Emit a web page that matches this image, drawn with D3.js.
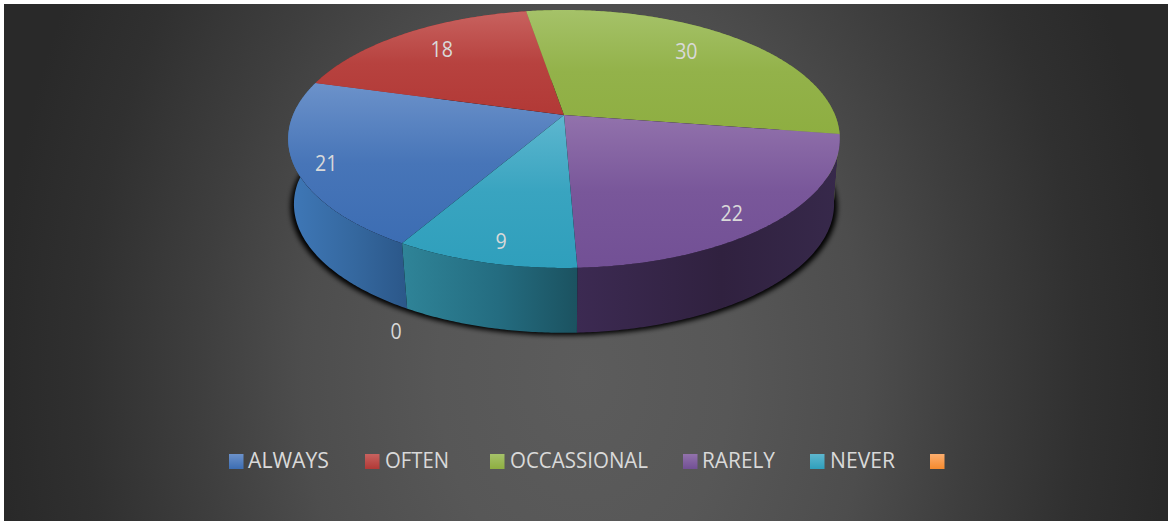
<!DOCTYPE html>
<html><head><meta charset="utf-8">
<script src="https://cdn.jsdelivr.net/npm/d3@7/dist/d3.min.js"></script>
<style>html,body{margin:0;padding:0;background:#fff}svg{display:block}text{font-family:"Open Sans",sans-serif;fill:#d9d9d9}</style>
</head><body><div id="chart"></div>
<script>
// ---- data ----
const categories = ["ALWAYS", "OFTEN", "OCCASSIONAL", "RARELY", "NEVER", ""];
const values = [21, 18, 30, 22, 9, 0];
const dataLabels = ["21", "18", "30", "22", "9", "0"];

// ---- styling ----
const topLight = ["#6c92ca", "#c8625f", "#a5c269", "#9272ac", "#5eb7cf", "#fdae6e"];
const topDark  = ["#3c6db3", "#b23936", "#8eae41", "#725095", "#2f9fbc", "#f58a2e"];
const sideStart = ["#3f78b8", "#8c2d2b", "#6f8a33", "#3c2a52", "#2f8498", "#b06020"];
const sideMid   = ["#35689f", "#8c2d2b", "#6f8a33", "#30213f", "#246c80", "#b06020"];
const sideEnd   = ["#2b5789", "#8c2d2b", "#6f8a33", "#37294b", "#1b5260", "#b06020"];
const labelNudgeX = [-25, 8, -15, 5, -2, -43];
const labelNudgeY = [8, 1, 0, 15, 13, 117];
const legendSwatchX = [229, 365, 490, 683, 810, 930];
const legendTextX = [248, 385, 510, 702, 830, 0];
const legendTextW = [81, 64, 138, 73, 65, 0];

const W = 1168, H = 521;
const svg = d3.select("#chart").append("svg").attr("width", W).attr("height", H);
const defs = svg.append("defs");

// background: off-centre radial glow
const bg = defs.append("radialGradient").attr("id", "bg").attr("gradientUnits", "userSpaceOnUse")
  .attr("cx", 0).attr("cy", 0).attr("r", 1)
  .attr("gradientTransform", "translate(584,375) scale(585,810)");
[[0, "#5c5c5c"], [0.25, "#575757"], [0.48, "#4d4d4d"], [0.66, "#3e3e3e"], [0.85, "#303030"], [1, "#292929"]]
  .forEach(s => bg.append("stop").attr("offset", s[0]).attr("stop-color", s[1]));
svg.append("rect").attr("x", 4).attr("y", 4).attr("width", W - 4).attr("height", H - 4).attr("fill", "url(#bg)");

// perspective projection of the pie disc
const cx = 564, cy = 115, A = 271, B = 124.5, P = 0.186;
const depthScale = 0.982, depthCy = 182.6;
function projTop(theta, r) {
  const X = r * Math.sin(theta), Y = r * Math.cos(theta), s = 1 + P * Y;
  return [cx + A * X / s, cy - B * Y / s];
}
function projBottom(theta, r) {
  const p = projTop(theta, r);
  const kx = depthScale + 0.016 * Math.min(0, Math.cos(theta));
  return [cx + kx * (p[0] - cx), depthCy + depthScale * (p[1] - cy)];
}
const start = -149.9 * Math.PI / 180;
const arcs = d3.pie().sort(null).startAngle(start).endAngle(start + 2 * Math.PI)(values);
const path = d3.line();
const ringAngles = (a0, a1) => {
  const n = Math.max(2, Math.ceil((a1 - a0) / 0.01));
  return d3.range(n + 1).map(i => a0 + (a1 - a0) * i / n);
};

// drop shadow
defs.append("filter").attr("id", "blur").attr("x", "-10%").attr("y", "-10%").attr("width", "120%").attr("height", "120%")
  .append("feGaussianBlur").attr("stdDeviation", 2.8);
const full = ringAngles(0, 2 * Math.PI);
svg.append("path").attr("d", path(full.map(t => {
    const p = projBottom(t, 1); return [cx + (p[0] - cx) * 1.012, p[1] + 2.5];
  })) + "Z").attr("fill", "#000").attr("filter", "url(#blur)");

// side walls: back slices first, so the front ones lie on top
const g = svg.append("g");
const order = [1, 2, 0, 3, 4];
order.forEach(i => {
  const d = arcs[i];
  const ring = ringAngles(d.startAngle, d.endAngle);
  const pts = ring.map(t => projTop(t, 1)).concat(ring.slice().reverse().map(t => projBottom(t, 1)));
  const ext = d3.extent(pts, p => p[0]);
  const id = "side" + i;
  const lg = defs.append("linearGradient").attr("id", id).attr("gradientUnits", "userSpaceOnUse")
    .attr("x1", ext[0]).attr("x2", ext[1]).attr("y1", 0).attr("y2", 0);
  lg.append("stop").attr("offset", 0).attr("stop-color", sideStart[i]);
  lg.append("stop").attr("offset", 0.55).attr("stop-color", sideMid[i]);
  lg.append("stop").attr("offset", 1).attr("stop-color", sideEnd[i]);
  g.append("path").attr("d", path(pts) + "Z").attr("fill", `url(#${id})`);
});

// top faces
arcs.forEach((d, i) => {
  if (d.value === 0) return;
  const pts = [[cx, cy]].concat(ringAngles(d.startAngle, d.endAngle).map(t => projTop(t, 1)));
  const ext = d3.extent(pts, p => p[1]);
  const id = "top" + i;
  const lg = defs.append("linearGradient").attr("id", id).attr("gradientUnits", "userSpaceOnUse")
    .attr("x1", 0).attr("x2", 0).attr("y1", ext[0]).attr("y2", ext[1]);
  lg.append("stop").attr("offset", 0).attr("stop-color", topLight[i]);
  lg.append("stop").attr("offset", 0.5).attr("stop-color", d3.interpolateRgb(topLight[i], topDark[i])(0.78));
  lg.append("stop").attr("offset", 1).attr("stop-color", topDark[i]);
  g.append("path").attr("d", path(pts) + "Z").attr("fill", `url(#${id})`);
});

// data labels
arcs.forEach((d, i) => {
  const mid = (d.startAngle + d.endAngle) / 2;
  const p = projTop(mid, 0.8);
  svg.append("text").attr("x", p[0] + labelNudgeX[i]).attr("y", p[1] + labelNudgeY[i])
    .attr("text-anchor", "middle").attr("dominant-baseline", "central")
    .attr("font-size", 21).attr("textLength", dataLabels[i].length * 11.2).attr("lengthAdjust", "spacingAndGlyphs")
    .text(dataLabels[i]);
});

// legend
categories.forEach((c, i) => {
  const id = "leg" + i;
  const lg = defs.append("linearGradient").attr("id", id).attr("x1", 0).attr("x2", 0).attr("y1", 0).attr("y2", 1);
  lg.append("stop").attr("offset", 0).attr("stop-color", topLight[i]);
  lg.append("stop").attr("offset", 1).attr("stop-color", topDark[i]);
  svg.append("rect").attr("x", legendSwatchX[i]).attr("y", 454).attr("width", 14.5).attr("height", 15)
    .attr("fill", `url(#${id})`);
  if (c) svg.append("text").attr("x", legendTextX[i]).attr("y", 459.5)
    .attr("dominant-baseline", "central").attr("font-size", 21.5)
    .attr("textLength", legendTextW[i]).attr("lengthAdjust", "spacingAndGlyphs").text(c);
});
</script></body></html>
